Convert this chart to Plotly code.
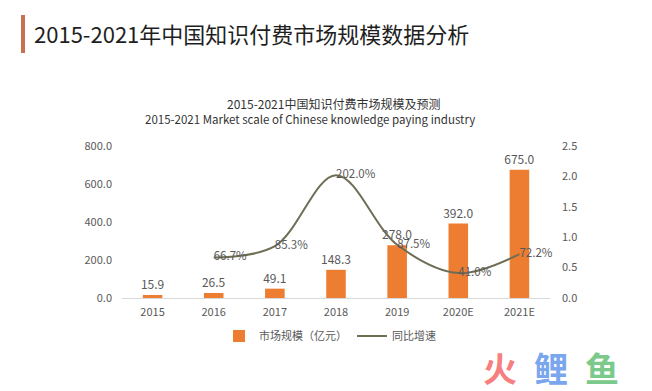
import plotly.graph_objects as go

categories = ["2015", "2016", "2017", "2018", "2019", "2020E", "2021E"]
market_size = [15.9, 26.5, 49.1, 148.3, 278.0, 392.0, 675.0]
growth_cats = ["2016", "2017", "2018", "2019", "2020E", "2021E"]
growth_rate = [0.667, 0.853, 2.020, 0.875, 0.410, 0.722]
growth_labels = ["66.7%", "85.3%", "202.0%", "87.5%", "41.0%", "72.2%"]
left_ticks = [0, 200, 400, 600, 800]
right_ticks = [0, 0.5, 1.0, 1.5, 2.0, 2.5]

FONT = "Noto Sans CJK SC"
GRAY = "#595959"

O = 8  # page body margin
W, H = 652 - O, 391 - O
L, R, T, B = 122, 550, 146, 298


def px(x):
    return (x - L) / (R - L)


def py(y):
    return (B - y) / (B - T)


fig = go.Figure()
fig.add_trace(go.Bar(
    x=categories, y=market_size, name="市场规模（亿元）",
    marker=dict(color="#ED7D31", line=dict(width=0)),
    width=0.32,
    text=[f"{v:.1f}" for v in market_size], textposition="outside",
    constraintext="none",
    textfont=dict(size=12, color=GRAY, family=FONT),
    cliponaxis=False,
))
fig.add_trace(go.Scatter(
    x=growth_cats, y=growth_rate, name="同比增速", yaxis="y2",
    mode="lines+text", line=dict(color="#6E6E55", width=2, shape="spline", smoothing=1.0),
    text=growth_labels, textposition="middle right",
    textfont=dict(size=11.5, color=GRAY, family=FONT),
    cliponaxis=False,
))

fig.update_layout(
    width=W, height=H,
    margin=dict(l=L - O, r=652 - R, t=T - O, b=391 - B),
    paper_bgcolor="white", plot_bgcolor="white",
    font=dict(family=FONT, color=GRAY, size=11),
    showlegend=True,
    legend=dict(orientation="h", x=px(330), xanchor="center", y=py(336), yanchor="middle",
                font=dict(size=11, color=GRAY, family=FONT), itemwidth=30),
    xaxis=dict(type="category", showgrid=False, showline=True, linecolor="#d9d9d9",
               linewidth=1, ticks="", tickfont=dict(size=11, color=GRAY), zeroline=False,
               ticklabelstandoff=4),
    yaxis=dict(range=[0, 800], tickvals=left_ticks, ticktext=[f"{v:.1f}" for v in left_ticks],
               showgrid=False, zeroline=False, showline=False, ticks="",
               tickfont=dict(size=11, color=GRAY), ticklabelstandoff=9),
    yaxis2=dict(range=[0, 2.5], overlaying="y", side="right", tickvals=right_ticks,
                ticktext=[f"{v:.1f}" for v in right_ticks], showgrid=False, zeroline=False,
                showline=False, ticks="", tickfont=dict(size=11, color=GRAY), ticklabelstandoff=11),
    bargap=0.68,
)

# header
fig.add_shape(type="rect", xref="paper", yref="paper",
              x0=px(21), x1=px(25), y0=py(53), y1=py(15),
              fillcolor="#C9724F", line=dict(width=0))
fig.add_annotation(text="2015-2021年中国知识付费市场规模数据分析", xref="paper", yref="paper",
                   x=px(32), y=py(33), xanchor="left", yanchor="middle", showarrow=False,
                   font=dict(size=22, color="#1f1f1f", family=FONT))
# chart title
fig.add_annotation(text="2015-2021中国知识付费市场规模及预测", xref="paper", yref="paper",
                   x=px(333), y=py(103), xanchor="center", yanchor="middle", showarrow=False,
                   font=dict(size=12, color="#333333", family=FONT))
fig.add_annotation(text="2015-2021 Market scale of Chinese knowledge paying industry", xref="paper", yref="paper",
                   x=px(310), y=py(119), xanchor="center", yanchor="middle", showarrow=False,
                   font=dict(size=11.5, color="#333333", family=FONT))
# watermark
for ch, cx, col in [("火", 500, "#F67F7F"), ("鲤", 551, "#7AA6EE"), ("鱼", 602, "#7BC98B")]:
    fig.add_annotation(text=f"<b>{ch}</b>", xref="paper", yref="paper",
                       x=px(cx), y=py(367), xanchor="center", yanchor="middle", showarrow=False,
                       font=dict(size=34, color=col, family=FONT))

fig.write_html("out.html")
